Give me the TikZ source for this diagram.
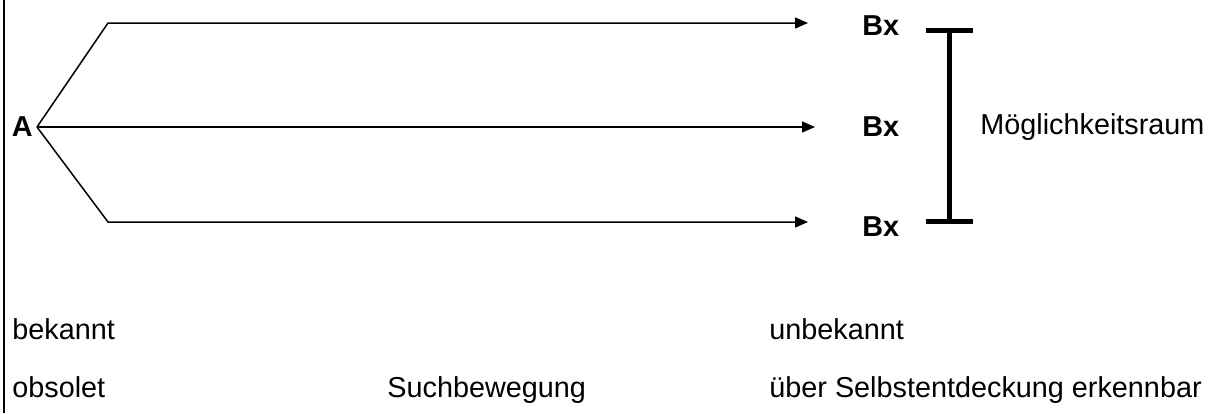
\documentclass[tikz,border=0pt]{standalone}
\usepackage{fontspec}
\setmainfont{Liberation Sans}
\usetikzlibrary{arrows.meta,positioning}

\begin{document}
\begin{tikzpicture}[x=0.5pt,y=-0.5pt,font=\fontsize{14.4}{17}\selectfont,lbl/.style={inner sep=0pt,anchor=base west},bx/.style={inner sep=0pt,anchor=west,font=\fontsize{14.4}{17}\selectfont\bfseries},arr/.style={-{Triangle[length=6.5pt,width=5.5pt]},line width=0.75pt},bar/.style={line width=2.5pt}]
\useasboundingbox (0,0) rectangle (1219,413);
\draw[line width=1.4pt] (4,0)--(4,413);
\node[inner sep=2pt,anchor=east,font=\fontsize{14.4}{17}\selectfont\bfseries] (a) at (37,127) {A};
\node[bx] (b1) at (862,26) {Bx};
\node[bx] (b2) at (862,127) {Bx};
\node[bx] (b3) at (862,227) {Bx};
\coordinate (k1) at (108,23);
\coordinate (k2) at (108,222);
\draw[arr,shorten >=27pt] (a.east)--(k1)--(k1-|b1.west);
\draw[arr,shorten >=23.5pt] (a.east)--(b2.west);
\draw[arr,shorten >=27pt] (a.east)--(k2)--(k2-|b3.west);
\draw[bar] (926,30)--(973,30) (949,30)--(949,221) (926,221)--(973,221);
\node[inner sep=0pt,anchor=west] (m) at (980,127) {Möglichkeitsraum};
\node[lbl] (l1) at (12,339) {bekannt};
\node[lbl] (l2) at (12,397) {obsolet};
\node[lbl] (l3) at (387,397) {Suchbewegung};
\node[lbl] (r1) at (769,339) {unbekannt};
\node[lbl] (r2) at (769,397) {über Selbstentdeckung erkennbar};
\end{tikzpicture}
\end{document}
